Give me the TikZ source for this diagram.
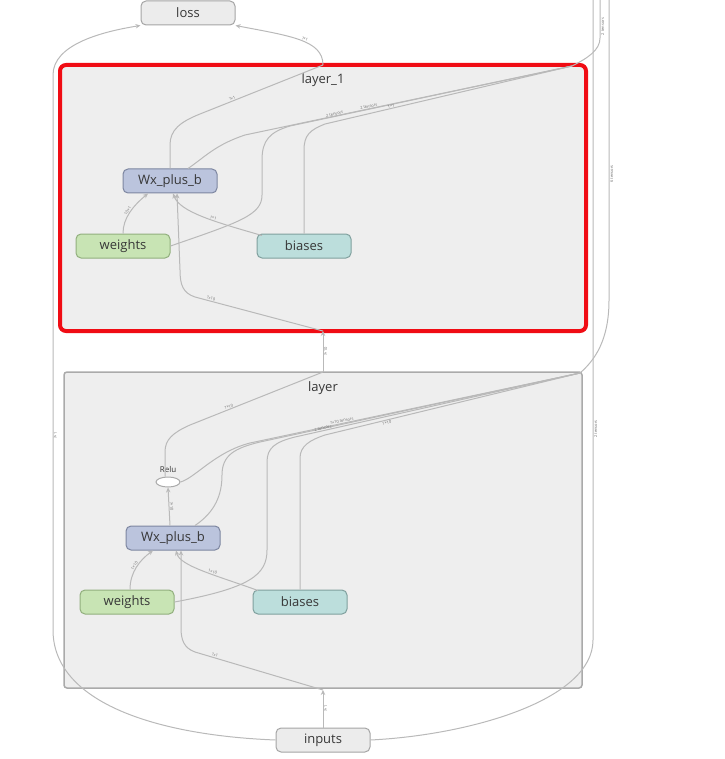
\documentclass[tikz,border=0pt]{standalone}
\usepackage{fontspec}
\setmainfont{Open Sans}
\usetikzlibrary{arrows.meta,shapes.geometric}
\definecolor{grpfill}{RGB}{238,238,238}
\definecolor{grpdraw}{RGB}{170,170,170}
\definecolor{redc}{RGB}{240,12,20}
\definecolor{edgec}{RGB}{185,185,185}
\definecolor{lblc}{RGB}{110,110,110}
\definecolor{txtc}{RGB}{55,55,55}
\definecolor{wxfill}{RGB}{187,196,221}
\definecolor{wxdraw}{RGB}{125,134,160}
\definecolor{wfill}{RGB}{200,228,180}
\definecolor{wdraw}{RGB}{145,175,125}
\definecolor{bfill}{RGB}{188,222,220}
\definecolor{bdraw}{RGB}{128,160,158}
\definecolor{iofill}{RGB}{236,236,236}
\definecolor{iodraw}{RGB}{165,165,165}
\begin{document}
\begin{tikzpicture}[x=1pt,y=-1pt,
  opbox/.style={rounded corners=5pt, minimum width=94pt, minimum height=24pt, inner sep=0pt,
    line width=1pt, font=\fontsize{13}{13}\selectfont, text=txtc},
  wxbox/.style={opbox, fill=wxfill, draw=wxdraw},
  wbox/.style={opbox, fill=wfill, draw=wdraw},
  bbox/.style={opbox, fill=bfill, draw=bdraw},
  iobox/.style={opbox, fill=iofill, draw=iodraw},
  edge/.style={draw=edgec, line width=1pt, -{Stealth[length=5pt,width=4.5pt]}},
  eline/.style={draw=edgec, line width=1pt},
  lbl/.style={sloped, font=\fontsize{4}{4}\selectfont, text=lblc, inner sep=0.6pt, above},
  grptitle/.style={font=\fontsize{13}{13}\selectfont, text=txtc},
]
\useasboundingbox (0,0) rectangle (724,759);

% groups
\fill[grpfill, rounded corners=6pt] (60,65) rectangle (586,331);
\draw[redc, line width=4pt, rounded corners=6pt] (60,65) rectangle (586,331);
\node[grptitle] (t1) at (323,80) {layer\_1};
\draw[grpdraw, fill=grpfill, line width=1.5pt, rounded corners=3pt] (64,372) rectangle (582,688);
\node[grptitle] (t0) at (323,388) {layer};

% group boundary coordinates
\coordinate (L1top) at (323,65);
\coordinate (L1bot) at (323,331);
\coordinate (L1tr) at (572,66);
\coordinate (L0top) at (323,372);
\coordinate (L0bot) at (323,690);
\coordinate (L0tr) at (580,373);
\coordinate (TopA) at (593,0);
\coordinate (TopB) at (600,0);
\coordinate (TopC) at (609,0);

% nodes
\node[iobox] (loss) at (188,13) {loss};
\node[iobox] (inputs) at (323,740) {inputs};
\node[wxbox] (wx1) at (170,181) {Wx\_plus\_b};
\node[wbox] (w1) at (123,246) {weights};
\node[bbox] (b1) at (304,246) {biases};
\node[wxbox] (wx0) at (173,538) {Wx\_plus\_b};
\node[wbox] (w0) at (127,602) {weights};
\node[bbox] (b0) at (300,602) {biases};
\node[ellipse, draw=grpdraw, fill=white, line width=1pt, minimum width=24pt, minimum height=10pt, inner sep=0pt] (relu) at (168,482) {};
\node[font=\fontsize{8}{8}\selectfont, text=txtc] (relulbl) at (168,469) {Relu};

% ---- layer (bottom group) ----
\draw[edge] (inputs.north) -- (L0bot) node[lbl, midway, below] {?×1};
\draw[edge] (L0bot) -- (195,652) node[lbl, pos=0.85] {?×1}
  .. controls (184,648) and (181,640) .. (181,628) -- ([xshift=8pt]wx0.south);
\draw[edge] ([xshift=3pt]w0.north) .. controls (130,572) and (140,560) .. ([xshift=-20pt]wx0.south)
  node[lbl, pos=0.5] {1×10};
\draw[edge] ([xshift=-42pt,yshift=-1pt]b0.north) .. controls (215,575) and (180,566) .. ([xshift=3pt]wx0.south)
  node[lbl, pos=0.4] {1×10};
\draw[edge] ([xshift=-3pt]wx0.north) -- (relu.south) node[lbl, midway] {?×10};
\draw[eline] ([xshift=-3pt]relu.north) -- (165,452) .. controls (165,440) and (172,433) .. (190,425)
  -- (L0top) node[lbl, pos=0.3] {?×10};
\draw[eline] (relu.east) .. controls (195,478) and (215,452) .. (250,443) -- (L0tr)
  node[lbl, pos=0.28] {?×10 tensors};
\draw[eline] ([xshift=22pt]wx0.north) .. controls (215,512) and (222,495) .. (222,475)
  .. controls (222,455) and (235,448) .. (260,442) -- (L0tr);
\draw[eline] (w0.east) .. controls (250,588) and (267,575) .. (267,550) -- (267,462)
  .. controls (267,448) and (275,442) .. (295,437) -- (L0tr) node[lbl, pos=0.1] {2 tensors};
\draw[eline] (b0.north) -- (300,458) .. controls (300,446) and (310,440) .. (325,435) -- (L0tr)
  node[lbl, pos=0.24, below] {1×10};
\draw[edge] (L0top) -- (L1bot) node[lbl, midway, below] {?×10};

% ---- layer_1 (top group) ----
\draw[edge] (L1bot) -- (195,297) node[lbl, pos=0.88] {?×10}
  .. controls (183,293) and (180,285) .. (180,270) -- ([xshift=7pt]wx1.south);
\draw[edge] (w1.north) .. controls (123,218) and (133,206) .. ([xshift=-22pt]wx1.south)
  node[lbl, pos=0.5] {10×1};
\draw[edge] ([xshift=-42pt,yshift=-2pt]b1.north) .. controls (215,222) and (180,212) .. ([xshift=3pt]wx1.south)
  node[lbl, pos=0.4] {1×1};
\draw[eline] (wx1.north) -- (170,145) .. controls (170,130) and (180,122) .. (200,114)
  -- (L1top) node[lbl, pos=0.27] {?×1};
\draw[edge] (L1top) .. controls (323,40) and (290,36) .. (loss.south east)
  node[lbl, pos=0.45] {?×1};
\draw[eline] ([xshift=18pt]wx1.north) .. controls (205,157) and (215,145) .. (245,135)
  -- (L1tr) node[lbl, pos=0.38] {2 tensors};
\draw[eline] (w1.east) .. controls (240,222) and (262,215) .. (262,195) -- (262,160)
  .. controls (262,140) and (270,132) .. (290,126) -- (L1tr) node[lbl, pos=0.16] {2 tensors};
\draw[eline] (b1.north) -- (304,150) .. controls (304,135) and (310,130) .. (325,124) -- (L1tr)
  node[lbl, pos=0.27] {1×1};

% ---- outer edges ----
\draw[eline] (L1tr) .. controls (588,58) and (600,50) .. (600,38) -- (TopB)
  node[lbl, pos=0.3, below] {2 tensors};
\draw[eline] (L0tr) .. controls (595,360) and (609,340) .. (609,300) -- (TopC)
  node[lbl, pos=0.42, below] {6 tensors};
\draw[eline] (inputs.east) .. controls (470,735) and (593,700) .. (593,640) -- (TopA)
  node[lbl, pos=0.33, below] {2 tensors};
\draw[edge] (inputs.west) .. controls (150,735) and (53,700) .. (53,630) -- (53,75)
  node[lbl, pos=0.35, below] {?×1}
  .. controls (53,45) and (100,32) .. (loss.south west);
\end{tikzpicture}
\end{document}
